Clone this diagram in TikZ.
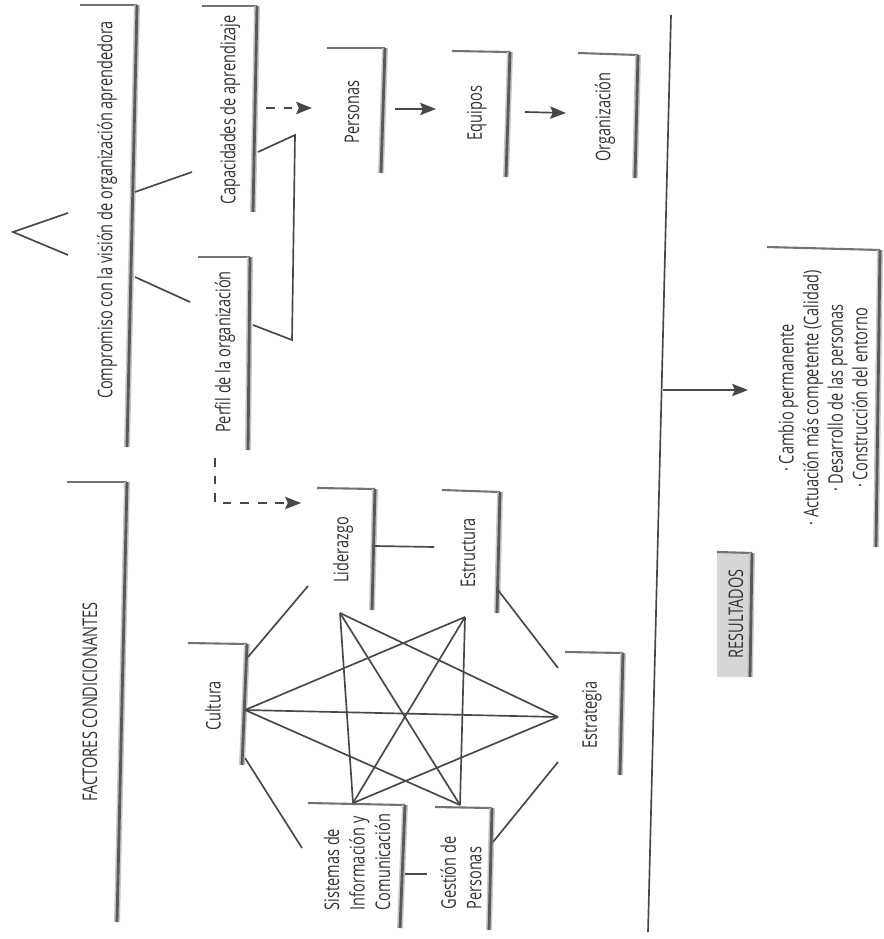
\documentclass[tikz,border=0pt]{standalone}
\usepackage{fontspec}
\setmainfont{Open Sans}[FakeStretch=0.72]
\usetikzlibrary{arrows.meta}
\definecolor{ink}{HTML}{333333}
\definecolor{wire}{HTML}{474747}

\tikzset{
  lbl/.style={rotate=90, text=ink, font=\fontsize{11.5}{14.5}\selectfont, inner sep=0pt},
  conn/.style={draw=wire, line width=0.95pt},
  arr/.style={conn, -{Stealth[length=9pt,width=7pt,inset=1.5pt]}},
  darr/.style={arr, dash pattern=on 5pt off 5pt},
  brtop/.style={draw=gray!90!black, line width=1.2pt},
  brhalo/.style={draw=gray!45, line width=3.4pt},
  brside/.style={draw=gray!70!black, line width=1.6pt},
}

% label bracket: top rule from #1 to #2, shaded side rule from #2 to #3
\newcommand\tagbracket[3]{%
  \draw[brtop] #1 -- #2;
  \draw[brhalo] #2 -- #3;
  \draw[brside] #2 -- #3;}

\begin{document}
\begin{tikzpicture}[x=0.02cm,y=-0.02cm]
\useasboundingbox (0,0) rectangle (883,939);

% ---------- top row: commitment and learning capacities ----------
\draw[conn] (68,213) coordinate (ang1) -- (13,232) coordinate (angtip) -- (68,255) coordinate (ang2);

\node[lbl] (comp) at (107,210) {Compromiso con la visión de organización aprendedora};
\tagbracket{(80,5)}{(137,5)}{(127,447)}

\node[lbl] (cap) at (230,110) {Capacidades de aprendizaje};
\tagbracket{(202,6)}{(257,6)}{(253,212)}

\node[lbl] (per) at (225,352) {Perfil de la organización};
\tagbracket{(198,257)}{(250,257)}{(248,450)}

\coordinate (comp-a) at (135,192);
\coordinate (cap-in) at (192,172);
\coordinate (comp-b) at (135,277);
\coordinate (per-in) at (190,302);
\draw[conn] (comp-a) -- (cap-in);
\draw[conn] (comp-b) -- (per-in);

\coordinate (cap-out) at (258,152);
\coordinate (per-out) at (253,325);
\draw[conn] (cap-out) -- (295,135) -- (292,340) -- (per-out);

% ---------- levels of learning ----------
\node[lbl] (pers) at (352,112) {Personas};
\tagbracket{(327,48)}{(385,48)}{(381,173)}
\node[lbl] (equ) at (477,113) {Equipos};
\tagbracket{(452,51)}{(510,52)}{(506,177)}
\node[lbl] (org) at (605,117) {Organización};
\tagbracket{(578,53)}{(638,55)}{(635,178)}

\coordinate (cap-arr) at (266,108);
\coordinate (pers-in) at (312,108);
\draw[darr] (cap-arr) -- (pers-in);
\coordinate (pers-out) at (395,109);
\coordinate (equ-in) at (436,109);
\draw[arr] (pers-out) -- (equ-in);
\coordinate (equ-out) at (525,112);
\coordinate (org-in) at (566,113);
\draw[arr] (equ-out) -- (org-in);

% ---------- results ----------
\coordinate (axis-top) at (671,15);
\coordinate (axis-bot) at (648,932);
\draw[conn] (axis-top) -- (axis-bot);

\node[lbl, align=center, font=\fontsize{11.5}{14}\selectfont] (res) at (823,398)
  {· Cambio permanente\\· Actuación más competente (Calidad)\\· Desarrollo de las personas\\· Construcción del entorno};
\tagbracket{(767,247)}{(880,250)}{(876,547)}

\coordinate (axis-res) at (663,390);
\coordinate (res-in) at (748,390);
\draw[arr] (axis-res) -- (res-in);

\fill[gray!32] (717,552) rectangle (751,677);
\tagbracket{(717,552)}{(752,553)}{(750,677)}
\node[lbl] (resul) at (736,614) {RESULTADOS};

% ---------- conditioning factors ----------
\node[lbl] (fact) at (90,702) {FACTORES CONDICIONANTES};
\tagbracket{(67,482)}{(127,482)}{(117,922)}

\coordinate (per-arr) at (215,458);
\coordinate (lid-in) at (301,503);
\draw[darr] (per-arr) |- (lid-in);

\node[lbl] (lid) at (343,550) {Liderazgo};
\tagbracket{(317,488)}{(375,489)}{(372,610)}
\node[lbl] (est) at (468,553) {Estructura};
\tagbracket{(442,490)}{(500,492)}{(497,613)}
\node[lbl] (cul) at (213,706) {Cultura};
\tagbracket{(188,643)}{(247,644)}{(242,765)}
\node[lbl] (estr) at (592,715) {Estrategia};
\tagbracket{(565,652)}{(623,653)}{(620,775)}
\node[lbl, align=left] (sis) at (357,862) {Sistemas de\\Información y\\Comunicación};
\tagbracket{(308,803)}{(405,805)}{(400,928)}
\node[lbl, align=left] (ges) at (461,873) {Gestión de\\Personas};
\tagbracket{(435,807)}{(492,808)}{(489,930)}

% ring links between neighbouring factors
\draw[conn] (375,546) -- (434,547);
\draw[conn] (405,874) -- (427,874);
\draw[conn] (248,657) -- (308,586);
\draw[conn] (245,758) -- (302,848);
\draw[conn] (498,590) -- (558,668);
\draw[conn] (558,762) -- (493,842);

% star of mutual influence
\coordinate (vC) at (245,710);
\coordinate (vL) at (340,613);
\coordinate (vE) at (465,617);
\coordinate (vS) at (558,717);
\coordinate (vG) at (460,805);
\coordinate (vI) at (353,803);
\foreach \a/\b in {vC/vE, vC/vS, vC/vG, vL/vS, vL/vG, vL/vI, vE/vG, vE/vI, vS/vI}
  \draw[conn, line join=miter] (\a) -- (\b);

\end{tikzpicture}
\end{document}
